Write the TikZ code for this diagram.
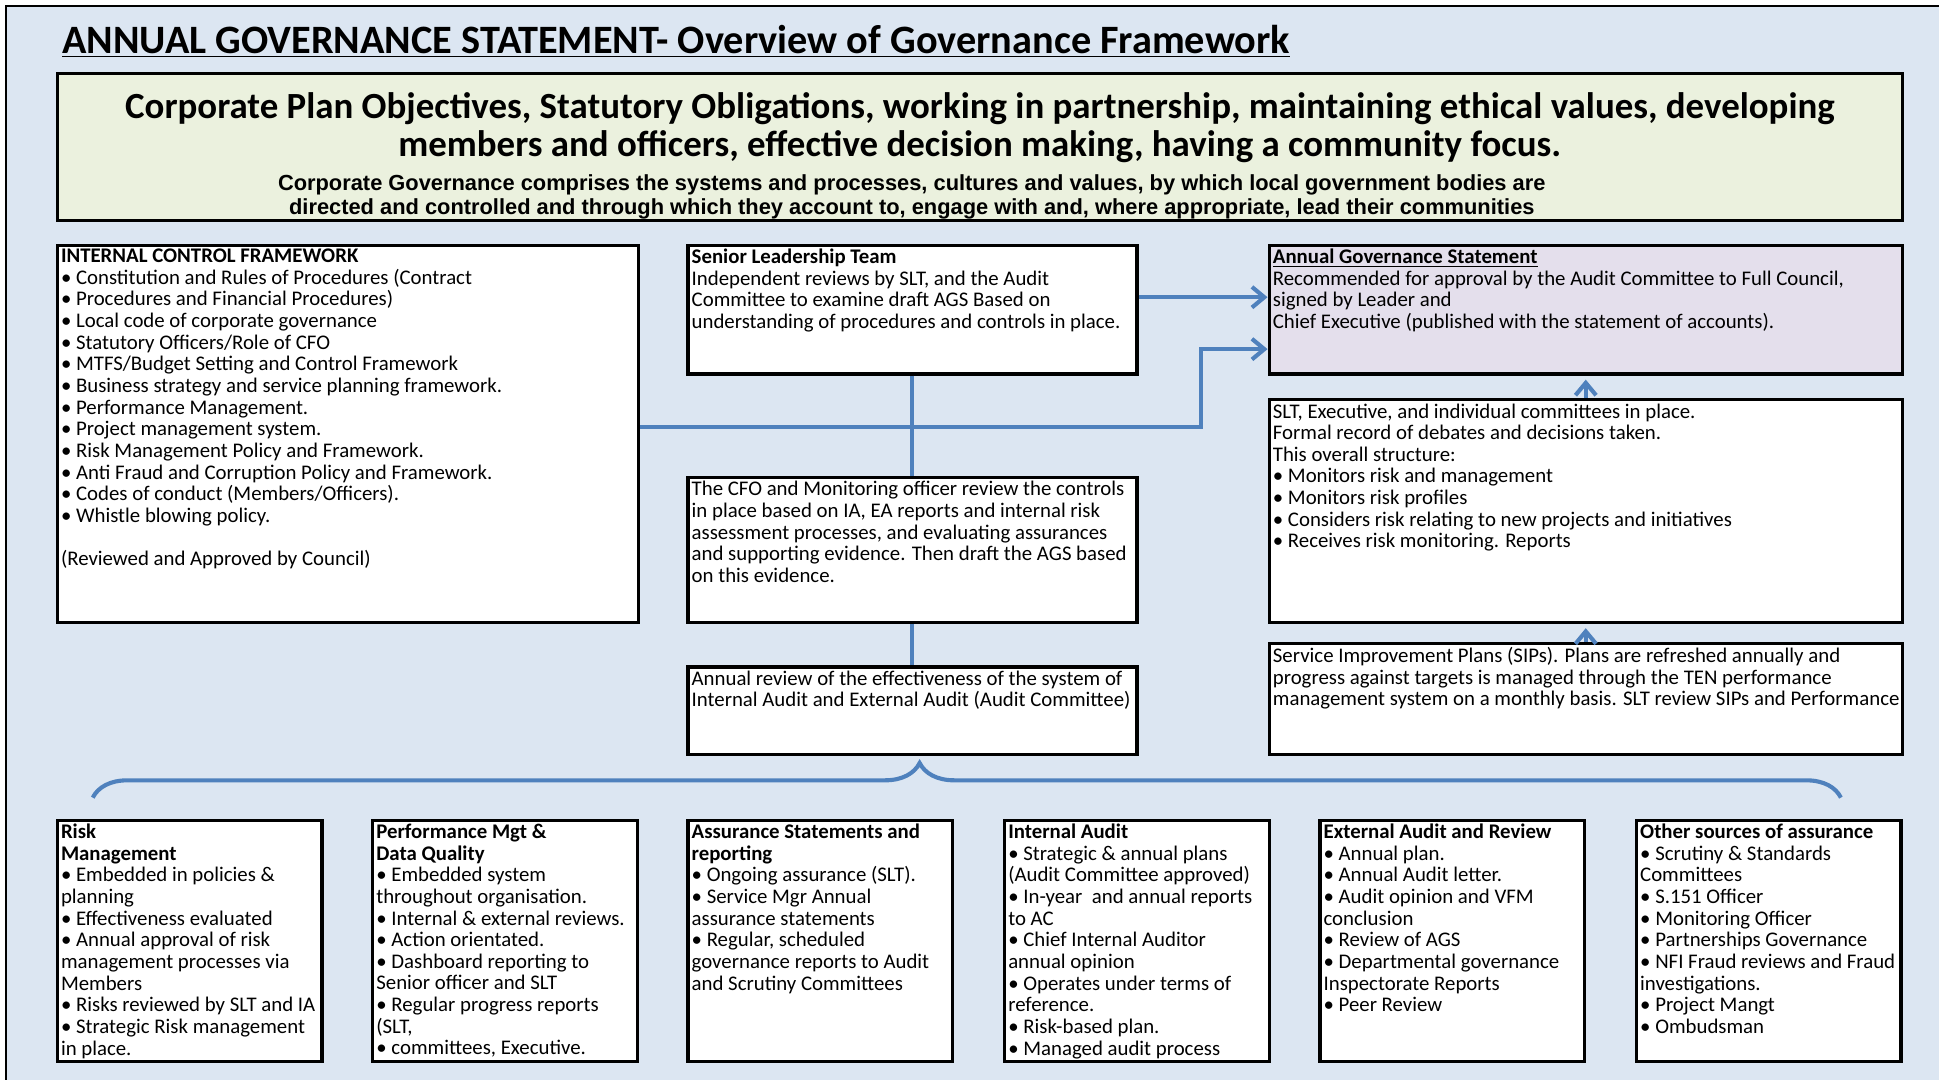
\documentclass[tikz,border=0pt]{standalone}
\usepackage{fontspec}
\setmainfont{Carlito}
\newfontfamily\notefont{Liberation Sans}
\usetikzlibrary{positioning,arrows.meta,decorations.pathreplacing}

\definecolor{bgblue}{HTML}{DCE6F2}
\definecolor{headgreen}{HTML}{EBF1DE}
\definecolor{agspurple}{HTML}{E4DFEC}
\definecolor{lineblue}{HTML}{4F81BD}

\newcommand{\panelfont}{\fontsize{10.1}{10.5}\selectfont}

\tikzset{
  panel/.style={draw=black, line width=1.6pt, fill=white, anchor=north west, inner sep=0pt},
  paneltext/.style={anchor=north west, align=left, inner xsep=2.4pt, inner ysep=2.4pt, font=\panelfont},
  link/.style={draw=lineblue, line width=2pt},
  flow/.style={link, -{Straight Barb[length=6pt,width=10pt]}},
}

\begin{document}
\begin{tikzpicture}[x=0.6pt,y=-0.6pt]
\useasboundingbox (0,0) rectangle (1568,873);
\fill[white] (0,0) rectangle (1568,873);
\fill[bgblue] (5,5) rectangle (1568,873);
\draw[line width=1.2pt] (5,873) -- (5,5) -- (1568,5);

% title
\node[anchor=base west, inner sep=0pt] (title) at (50,43)
  {\fontsize{19.55}{22}\selectfont\bfseries\underline{ANNUAL GOVERNANCE STATEMENT- Overview of Governance Framework}};

% header box
\node[panel, fill=headgreen, minimum width=895.2pt, minimum height=71.4pt] (head) at (45,58) {};
\node[anchor=north, align=center, inner sep=0pt, font=\fontsize{17.9}{18.6}\selectfont\bfseries] (headtext)
  at ([yshift=-9.9pt]head.north)
  {Corporate Plan Objectives, Statutory Obligations, working in partnership, maintaining ethical values, developing\\
   members and officers, effective decision making, having a community focus.};
\node[anchor=north, align=center, inner sep=0pt, font=\notefont\fontsize{10.6}{11.4}\selectfont\bfseries] (headnote)
  at ([xshift=-33pt,yshift=-49.8pt]head.north)
  {Corporate Governance comprises the systems and processes, cultures and values, by which local government bodies are\\
   directed and controlled and through which they account to, engage with and, where appropriate, lead their communities};

% middle row
\node[panel, minimum width=282pt, minimum height=183pt] (icf) at (45,197) {};
\node[paneltext] (icftext) at (icf.north west)
  {\textbf{INTERNAL CONTROL FRAMEWORK}\\
   • Constitution and Rules of Procedures (Contract\\
   • Procedures and Financial Procedures)\\
   • Local code of corporate governance\\
   • Statutory Officers/Role of CFO\\
   • MTFS/Budget Setting and Control Framework\\
   • Business strategy and service planning framework.\\
   • Performance Management.\\
   • Project management system.\\
   • Risk Management Policy and Framework.\\
   • Anti Fraud and Corruption Policy and Framework.\\
   • Codes of conduct (Members/Officers).\\
   • Whistle blowing policy.\\[10.5pt]
   (Reviewed and Approved by Council)};

\node[panel, minimum width=217.8pt, minimum height=62.4pt] (slt) at (555,197) {};
\node[paneltext] (slttext) at (slt.north west)
  {\textbf{Senior Leadership Team}\\
   Independent reviews by SLT, and the Audit\\
   Committee to examine draft AGS Based on\\
   understanding of procedures and controls in place.};

\node[panel, minimum width=217.8pt, minimum height=70.2pt] (cfo) at (555,385) {};
\node[paneltext] (cfotext) at (cfo.north west)
  {The CFO and Monitoring officer review the controls\\
   in place based on IA, EA reports and internal risk\\
   assessment processes, and evaluating assurances\\
   and supporting evidence. Then draft the AGS based\\
   on this evidence.};

\node[panel, minimum width=217.8pt, minimum height=42.6pt] (review) at (555,538) {};
\node[paneltext] (reviewtext) at (review.north west)
  {Annual review of the effectiveness of the system of\\
   Internal Audit and External Audit (Audit Committee)};

\node[panel, fill=agspurple, minimum width=307.2pt, minimum height=62.4pt] (ags) at (1025,197) {};
\node[paneltext] (agstext) at (ags.north west)
  {\textbf{\underline{Annual Governance Statement}}\\
   Recommended for approval by the Audit Committee to Full Council,\\
   signed by Leader and\\
   Chief Executive (published with the statement of accounts).};

\node[panel, minimum width=307.2pt, minimum height=108pt] (exec) at (1025,322) {};
\node[paneltext] (exectext) at (exec.north west)
  {SLT, Executive, and individual committees in place.\\
   Formal record of debates and decisions taken.\\
   This overall structure:\\
   • Monitors risk and management\\
   • Monitors risk profiles\\
   • Considers risk relating to new projects and initiatives\\
   • Receives risk monitoring. Reports};

\node[panel, minimum width=307.2pt, minimum height=54pt] (sip) at (1025,519) {};
\node[paneltext] (siptext) at (sip.north west)
  {Service Improvement Plans (SIPs). Plans are refreshed annually and\\
   progress against targets is managed through the TEN performance\\
   management system on a monthly basis. SLT review SIPs and Performance};

% bottom row
\node[panel, minimum width=128.4pt, minimum height=117pt] (risk) at (45,662) {};
\node[paneltext] (risktext) at (risk.north west)
  {\textbf{Risk}\\
   \textbf{Management}\\
   • Embedded in policies \&\\
   planning\\
   • Effectiveness evaluated\\
   • Annual approval of risk\\
   management processes via\\
   Members\\
   • Risks reviewed by SLT and IA\\
   • Strategic Risk management\\
   in place.};

\node[panel, minimum width=128.4pt, minimum height=117pt] (perf) at (300,662) {};
\node[paneltext] (perftext) at (perf.north west)
  {\textbf{Performance Mgt \&}\\
   \textbf{Data Quality}\\
   • Embedded system\\
   throughout organisation.\\
   • Internal \& external reviews.\\
   • Action orientated.\\
   • Dashboard reporting to\\
   Senior officer and SLT\\
   • Regular progress reports\\
   (SLT,\\
   • committees, Executive.};

\node[panel, minimum width=128.4pt, minimum height=117pt] (assure) at (555,662) {};
\node[paneltext] (assuretext) at (assure.north west)
  {\textbf{Assurance Statements and}\\
   \textbf{reporting}\\
   • Ongoing assurance (SLT).\\
   • Service Mgr Annual\\
   assurance statements\\
   • Regular, scheduled\\
   governance reports to Audit\\
   and Scrutiny Committees};

\node[panel, minimum width=128.4pt, minimum height=117pt] (ia) at (811,662) {};
\node[paneltext] (iatext) at (ia.north west)
  {\textbf{Internal Audit}\\
   • Strategic \& annual plans\\
   (Audit Committee approved)\\
   • In-year~ and annual reports\\
   to AC\\
   • Chief Internal Auditor\\
   annual opinion\\
   • Operates under terms of\\
   reference.\\
   • Risk-based plan.\\
   • Managed audit process};

\node[panel, minimum width=128.4pt, minimum height=117pt] (ea) at (1066,662) {};
\node[paneltext] (eatext) at (ea.north west)
  {\textbf{External Audit and Review}\\
   • Annual plan.\\
   • Annual Audit letter.\\
   • Audit opinion and VFM\\
   conclusion\\
   • Review of AGS\\
   • Departmental governance\\
   Inspectorate Reports\\
   • Peer Review};

\node[panel, minimum width=128.4pt, minimum height=117pt] (other) at (1322,662) {};
\node[paneltext] (othertext) at (other.north west)
  {\textbf{Other sources of assurance}\\
   • Scrutiny \& Standards\\
   Committees\\
   • S.151 Officer\\
   • Monitoring Officer\\
   • Partnerships Governance\\
   • NFI Fraud reviews and Fraud\\
   investigations.\\
   • Project Mangt\\
   • Ombudsman};

% connectors
\draw[flow] ([yshift=6pt]slt.east) -- ([yshift=6pt]ags.west);
\draw[flow] ([yshift=3.3pt]icf.east) -| ([xshift=-32.4pt,yshift=-19.2pt]ags.west) -- ([yshift=-19.2pt]ags.west);
\draw[link] (slt.south) -- (cfo.north);
\draw[link] (cfo.south) -- (review.north);
\draw[flow, shorten >=2pt] (exec.north) -- (ags.south);
\draw[flow, shorten >=2pt] (sip.north) -- (exec.south);

\coordinate (braceL) at ([xshift=18pt,yshift=10.2pt]risk.north west);
\coordinate (braceR) at ([xshift=-30pt,yshift=10.2pt]other.north east);
\draw[link, decorate, decoration={brace, amplitude=16.8pt, aspect=0.473}] (braceL) -- (braceR);
\end{tikzpicture}
\end{document}
